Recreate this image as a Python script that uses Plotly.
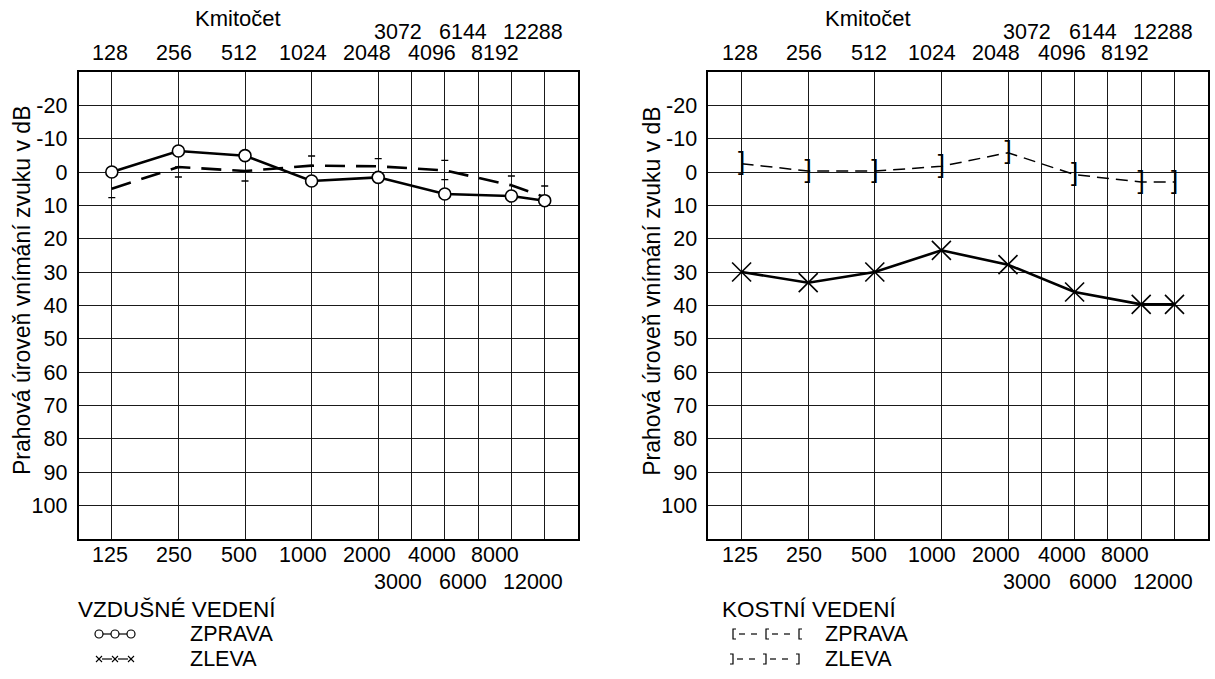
import plotly.graph_objects as go

W, H = 1215, 679

# Audiogram column layout: octave frequencies two units apart,
# the inter-octave frequencies (3000, 6000, 12000) one unit after their neighbour.
FREQ_COLUMN = {125: 1, 250: 3, 500: 5, 1000: 7, 2000: 9, 3000: 10,
               4000: 11, 6000: 12, 8000: 13, 12000: 14}

test_freqs = [125, 250, 500, 1000, 2000, 4000, 8000, 12000]

# left audiogram
air_right_db = [0, -6.3, -4.9, 2.7, 1.6, 6.6, 7.2, 8.6]
air_left_dash_db = [5, -1.5, -0.3, -1.9, -1.7, -0.5, 4, 7.5]
# short marks left along the dashed curve
dash_mark_freqs = [125, 250, 250, 500, 1000, 2000, 4000, 4000, 8000, 12000]
dash_mark_db = [7.7, -1.5, 1.5, 2.7, -4.8, -4.0, -3.5, 2.3, 1.2, 4.2]
# right audiogram
bone_db = [-2.5, -0.3, -0.3, -1.7, -5.8, 0.8, 3, 3]
air_x_db = [30, 33.2, 30, 23.5, 27.8, 36, 39.7, 39.7]

db_ticks = list(range(-20, 101, 10))
hz_main = ["125", "250", "500", "1000", "2000", "4000", "8000"]
hz_mid = ["3000", "6000", "12000"]
per_main = ["128", "256", "512", "1024", "2048", "4096", "8192"]
per_mid = ["3072", "6144", "12288"]

FONT = "Liberation Sans, Arial, sans-serif"
NUM = 21.5
TXT = 22

# label anchor positions along the frequency axis (axis units)
main_lab_x = [0.94, 2.87, 4.82, 6.73, 8.65, 10.62, 12.5]
mid_lab_x = [9.58, 11.55, 13.64]

PANELS = [(78.5, 578.0), (708.3, 1207.8)]
TOP, BOTTOM = 72.0, 538.7


def px(x):
    return x / W


def py(y):
    return 1 - y / H


def cols(freqs):
    return [FREQ_COLUMN[f] for f in freqs]


fig = go.Figure()

# --- left panel ---
fig.add_trace(go.Scatter(
    x=cols(test_freqs), y=air_left_dash_db, mode="lines",
    line=dict(color="black", width=2.6, dash="20px,11px"),
    xaxis="x", yaxis="y", showlegend=False, cliponaxis=False))
fig.add_trace(go.Scatter(
    x=cols(dash_mark_freqs), y=dash_mark_db, mode="markers",
    marker=dict(symbol="line-ew", size=5, line=dict(color="black", width=1.3)),
    xaxis="x", yaxis="y", showlegend=False))
fig.add_trace(go.Scatter(
    x=cols(test_freqs), y=air_right_db, mode="lines+markers",
    line=dict(color="black", width=2.6),
    marker=dict(symbol="circle", size=12, color="white",
                line=dict(color="black", width=1.6)),
    xaxis="x", yaxis="y", showlegend=False, cliponaxis=False))

# --- right panel ---
fig.add_trace(go.Scatter(
    x=cols(test_freqs), y=bone_db, mode="lines+text",
    text=["]"] * len(bone_db),
    textposition="middle center",
    textfont=dict(family=FONT, size=26, color="black"),
    line=dict(color="black", width=1.5, dash="12px,7px"),
    xaxis="x2", yaxis="y2", showlegend=False, cliponaxis=False))
fig.add_trace(go.Scatter(
    x=cols(test_freqs), y=air_x_db, mode="lines+markers",
    line=dict(color="black", width=2.6),
    marker=dict(symbol="x-thin-open", size=19,
                line=dict(color="black", width=1.6)),
    xaxis="x2", yaxis="y2", showlegend=False, cliponaxis=False))

grid_cols = sorted(FREQ_COLUMN.values())
xax = dict(range=[0, 15], tickvals=grid_cols, showticklabels=False,
           showgrid=True, gridcolor="#1a1a1a", gridwidth=1.4,
           showline=True, mirror=True, linecolor="black", linewidth=1.6,
           zeroline=False, ticks="", fixedrange=True)
yax = dict(range=[110, -30], tickvals=db_ticks, ticktext=[str(v) for v in db_ticks],
           showgrid=True, gridcolor="#1a1a1a", gridwidth=1.4,
           showline=True, mirror=True, linecolor="black", linewidth=1.6,
           zeroline=False, ticks="outside", ticklen=5, tickcolor="rgba(0,0,0,0)",
           tickfont=dict(family=FONT, size=NUM, color="black"),
           domain=[py(BOTTOM), py(TOP)], fixedrange=True)

annotations = []
shapes = []
for i, (x0, x1) in enumerate(PANELS):
    xr = "x" if i == 0 else "x2"
    for lab, xv in zip(hz_main, main_lab_x):
        annotations.append(dict(text=lab, x=xv, y=py(555), xref=xr, yref="paper",
                                showarrow=False, xanchor="center", yanchor="middle",
                                font=dict(family=FONT, size=NUM, color="black")))
    for lab, xv in zip(hz_mid, mid_lab_x):
        annotations.append(dict(text=lab, x=xv, y=py(582), xref=xr, yref="paper",
                                showarrow=False, xanchor="center", yanchor="middle",
                                font=dict(family=FONT, size=NUM, color="black")))
    for lab, xv in zip(per_main, main_lab_x):
        annotations.append(dict(text=lab, x=xv, y=py(53), xref=xr, yref="paper",
                                showarrow=False, xanchor="center", yanchor="middle",
                                font=dict(family=FONT, size=NUM, color="black")))
    for lab, xv in zip(per_mid, mid_lab_x):
        annotations.append(dict(text=lab, x=xv, y=py(32), xref=xr, yref="paper",
                                showarrow=False, xanchor="center", yanchor="middle",
                                font=dict(family=FONT, size=NUM, color="black")))
    annotations.append(dict(text="Kmitočet", x=4.8, y=py(18), xref=xr, yref="paper",
                            showarrow=False, xanchor="center", yanchor="middle",
                            font=dict(family=FONT, size=TXT, color="black")))
    annotations.append(dict(text="Prahová úroveň vnímání zvuku v dB",
                            x=px(x0 - 56.5), y=py(291), xref="paper", yref="paper",
                            textangle=-90, showarrow=False,
                            xanchor="center", yanchor="middle",
                            font=dict(family=FONT, size=23, color="black")))


def txt(s, x, y, size=21.5):
    annotations.append(dict(text=s, x=px(x), y=py(y), xref="paper", yref="paper",
                            showarrow=False, xanchor="left", yanchor="middle",
                            borderpad=0,
                            font=dict(family=FONT, size=size, color="black")))


def seg(xa, ya, xb, yb, w=1.2):
    shapes.append(dict(type="line", xref="paper", yref="paper",
                       x0=px(xa), y0=py(ya), x1=px(xb), y1=py(yb),
                       line=dict(color="black", width=w)))


def path(pts, w=1.2):
    d = "M " + " L ".join(f"{px(a):.6f},{py(b):.6f}" for a, b in pts)
    shapes.append(dict(type="path", xref="paper", yref="paper", path=d,
                       line=dict(color="black", width=w)))


# legend rows
ROW_T, ROW_1, ROW_2 = 609, 634, 659

# legend: air conduction
txt("VZDUŠNÉ VEDENÍ", 77, ROW_T, 22.5)
txt("ZPRAVA", 189, ROW_1)
txt("ZLEVA", 189, ROW_2)
seg(99, ROW_1, 131, ROW_1)
for cx in (99, 115, 131):
    shapes.append(dict(type="circle", xref="paper", yref="paper",
                       x0=px(cx - 4), x1=px(cx + 4), y0=py(ROW_1 - 4), y1=py(ROW_1 + 4),
                       fillcolor="white", line=dict(color="black", width=1.2)))
for a, b in ((102, 112), (118, 128)):
    seg(a, ROW_2, b, ROW_2)
for cx in (99, 115, 131):
    seg(cx - 3, ROW_2 - 3, cx + 3, ROW_2 + 3, 1.1)
    seg(cx - 3, ROW_2 + 3, cx + 3, ROW_2 - 3, 1.1)

# legend: bone conduction
txt("KOSTNÍ VEDENÍ", 721, ROW_T, 22.5)
txt("ZPRAVA", 824, ROW_1)
txt("ZLEVA", 824, ROW_2)
for bx in (733, 766, 799):
    path([(bx + 3, ROW_1 - 5), (bx, ROW_1 - 5), (bx, ROW_1 + 5), (bx + 3, ROW_1 + 5)])
    path([(bx - 3, ROW_2 - 5), (bx, ROW_2 - 5), (bx, ROW_2 + 5), (bx - 3, ROW_2 + 5)])
for bx in (733, 766):
    seg(bx + 6, ROW_1, bx + 12, ROW_1)
    seg(bx + 18, ROW_1, bx + 24, ROW_1)
    seg(bx + 4, ROW_2, bx + 10, ROW_2)
    seg(bx + 16, ROW_2, bx + 22, ROW_2)

fig.update_layout(
    width=W, height=H, margin=dict(l=0, r=0, t=0, b=0),
    paper_bgcolor="white", plot_bgcolor="white",
    font=dict(family=FONT, color="black"),
    xaxis=dict(xax, domain=[px(PANELS[0][0]), px(PANELS[0][1])], anchor="y"),
    yaxis=dict(yax, anchor="x"),
    xaxis2=dict(xax, domain=[px(PANELS[1][0]), px(PANELS[1][1])], anchor="y2"),
    yaxis2=dict(yax, anchor="x2"),
    annotations=annotations, shapes=shapes, showlegend=False,
)

fig.write_html("out.html")
